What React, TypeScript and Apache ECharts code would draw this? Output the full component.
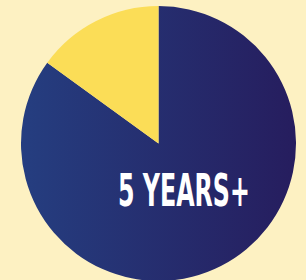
import React, { useEffect, useRef } from "react";
import * as echarts from "echarts";

const categories = ["5 YEARS+", "UNDER 5 YEARS"];
const values = [85, 15];
const labelText = "5 YEARS+";

export default function App() {
  const ref = useRef<HTMLDivElement>(null);
  useEffect(() => {
    if (!ref.current) return;
    const chart = echarts.init(ref.current, undefined, { renderer: "svg" });
    chart.setOption({
      animation: false,
      backgroundColor: "#FDF1C2",
      series: [
        {
          type: "pie",
          center: [158.5, 143.5],
          radius: 137.5,
          startAngle: 90,
          clockwise: true,
          z: 1,
          label: { show: false },
          labelLine: { show: false },
          emphasis: { disabled: true },
          silent: true,
          data: categories.map((name, i) => ({
            name,
            value: values[i],
            itemStyle:
              i === 0
                ? {
                    color: new echarts.graphic.LinearGradient(0, 0, 1, 0, [
                      { offset: 0, color: "#253E80" },
                      { offset: 1, color: "#261D5E" },
                    ]),
                  }
                : { color: "#FBDD57" },
          })),
        },
      ],
      graphic: {
        elements: [
          {
            type: "text",
            z: 100,
            x: 118,
            y: 191,
            scaleX: 0.6,
            style: {
              text: labelText,
              fill: "#FFFFFF",
              fontFamily: '"DejaVu Sans Condensed", "DejaVu Sans", sans-serif',
              fontWeight: "bold",
              fontSize: 44,
              align: "left",
              verticalAlign: "middle",
            },
          },
        ],
      },
    });
    return () => chart.dispose();
  }, []);
  return (
    <div
      ref={ref}
      style={{ position: "fixed", left: 0, top: 0, width: 306, height: 280 }}
    />
  );
}
